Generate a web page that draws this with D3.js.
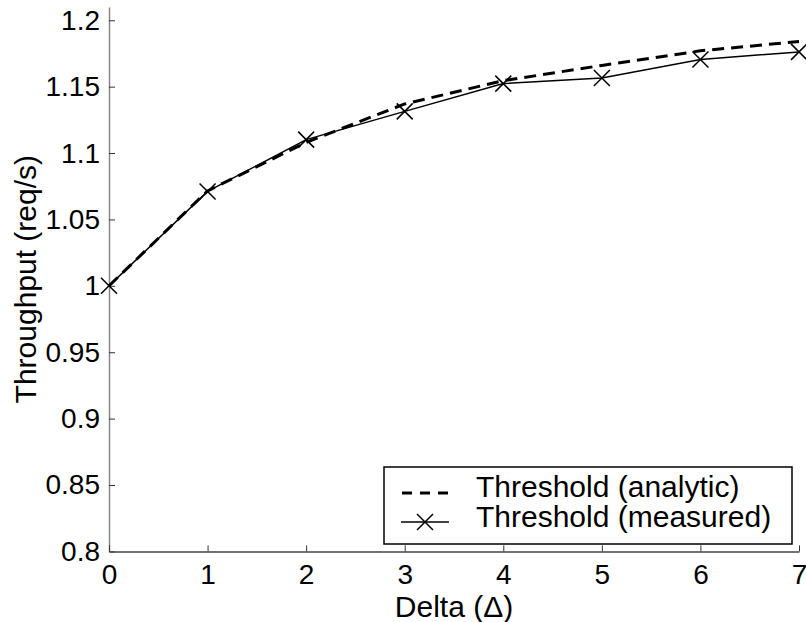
<!DOCTYPE html>
<html>
<head>
<meta charset="utf-8">
<script src="https://cdn.jsdelivr.net/npm/d3@7"></script>
<style>
  body { margin: 0; background: #fff; }
  svg { font-family: "Liberation Sans", Arial, Helvetica, sans-serif; }
</style>
</head>
<body>
<svg width="806" height="622"></svg>
<script>
// Data
const deltas = [0, 1, 2, 3, 4, 5, 6, 7];
const analytic = [1.0, 1.0715, 1.108, 1.137, 1.1545, 1.166, 1.177, 1.184];
const measured = [1.0, 1.0711, 1.1101, 1.1314, 1.1523, 1.1565, 1.1704, 1.1762];
const yTicks = [0.8, 0.85, 0.9, 0.95, 1, 1.05, 1.1, 1.15, 1.2];
const legendLabels = ["Threshold (analytic)", "Threshold (measured)"];

const svg = d3.select("svg");

// Scales
const x = d3.scaleLinear().domain([0, 7]).range([109, 799]);
const y = d3.scaleLinear().domain([0.8, 1.21]).range([551.4, 7]);

// Y axis (ticks pointing inward)
const yAxis = svg.append("g")
  .attr("transform", `translate(${x(0)},0)`)
  .call(d3.axisLeft(y).tickValues(yTicks).tickFormat(d3.format("~g"))
    .tickSizeInner(-6).tickSizeOuter(0).tickPadding(9));
yAxis.select(".domain").attr("stroke", "#888").attr("stroke-width", 1.5);
yAxis.selectAll(".tick line").attr("stroke", "#333");
yAxis.selectAll("text").attr("font-size", 28).attr("fill", "#000")
  .attr("font-family", "Liberation Sans, Arial, sans-serif");

// X axis (ticks pointing inward)
const xAxis = svg.append("g")
  .attr("transform", `translate(0,${y(0.8)})`)
  .call(d3.axisBottom(x).tickValues(deltas).tickFormat(d3.format("d"))
    .tickSizeInner(-6).tickSizeOuter(0).tickPadding(13));
xAxis.select(".domain").attr("stroke", "#444").attr("stroke-width", 1.5);
xAxis.selectAll(".tick line").attr("stroke", "#333");
xAxis.selectAll("text").attr("font-size", 28).attr("fill", "#000")
  .attr("font-family", "Liberation Sans, Arial, sans-serif");

// Axis titles
svg.append("text")
  .attr("x", (x(0) + x(7)) / 2)
  .attr("y", 617)
  .attr("text-anchor", "middle")
  .attr("font-size", 30)
  .text("Delta (\u0394)");

svg.append("text")
  .attr("transform", `translate(36,${(y(0.8) + y(1.21)) / 2}) rotate(-90)`)
  .attr("text-anchor", "middle")
  .attr("font-size", 30)
  .text("Throughput (req/s)");

// Lines
const line = d3.line().x((d, i) => x(deltas[i])).y(d => y(d));

svg.append("path")
  .datum(analytic)
  .attr("d", line)
  .attr("fill", "none")
  .attr("stroke", "#000")
  .attr("stroke-width", 3)
  .attr("stroke-dasharray", "12,7");

svg.append("path")
  .datum(measured)
  .attr("d", line)
  .attr("fill", "none")
  .attr("stroke", "#000")
  .attr("stroke-width", 1.5);

// X markers
const cross = d3.symbol().type(d3.symbolCross);
const m = 8;
svg.selectAll(".marker")
  .data(measured)
  .enter()
  .append("path")
  .attr("class", "marker")
  .attr("d", `M${-m},${-m}L${m},${m}M${-m},${m}L${m},${-m}`)
  .attr("transform", (d, i) => `translate(${x(deltas[i])},${y(d)})`)
  .attr("stroke", "#000")
  .attr("stroke-width", 1.5)
  .attr("fill", "none");

// Legend
const legend = svg.append("g").attr("transform", "translate(384,467)");
legend.append("rect")
  .attr("width", 408)
  .attr("height", 77)
  .attr("fill", "#fff")
  .attr("stroke", "#000")
  .attr("stroke-width", 1.5);

legend.append("line")
  .attr("x1", 18).attr("x2", 64).attr("y1", 26).attr("y2", 26)
  .attr("stroke", "#000").attr("stroke-width", 3)
  .attr("stroke-dasharray", "10,8");

legend.append("line")
  .attr("x1", 17).attr("x2", 65).attr("y1", 55).attr("y2", 55)
  .attr("stroke", "#000").attr("stroke-width", 1.5);
legend.append("path")
  .attr("d", `M${-m},${-m}L${m},${m}M${-m},${m}L${m},${-m}`)
  .attr("transform", "translate(41,55)")
  .attr("stroke", "#000").attr("stroke-width", 1.5);

legend.selectAll(".ltext")
  .data(legendLabels)
  .enter()
  .append("text")
  .attr("class", "ltext")
  .attr("x", 92)
  .attr("y", (d, i) => 30 + i * 30)
  .attr("font-size", 30)
  .text(d => d);
</script>
</body>
</html>
